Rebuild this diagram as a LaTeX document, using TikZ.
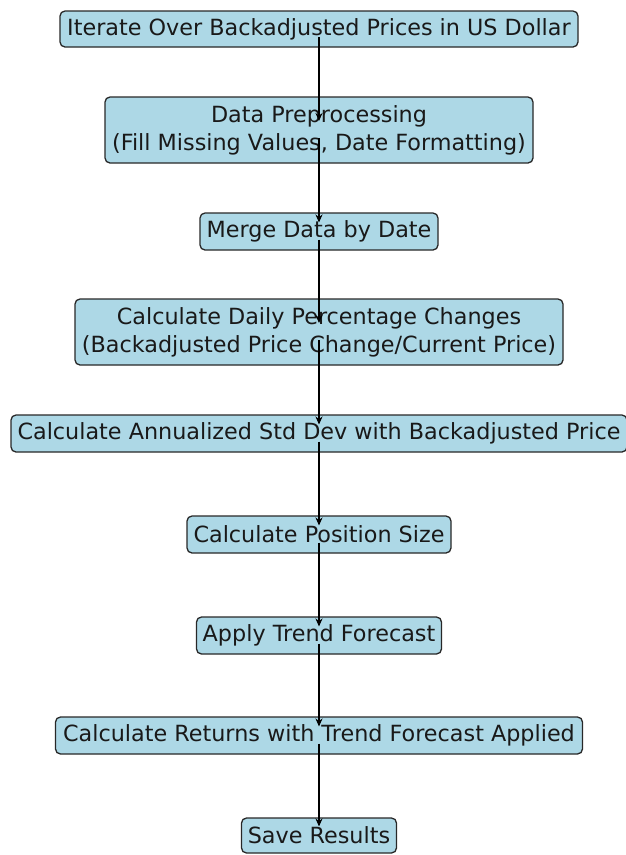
\documentclass[tikz,border=0pt]{standalone}
\usepackage{fontspec}
\setmainfont{DejaVu Sans}
\usetikzlibrary{arrows.meta}
\definecolor{boxfill}{RGB}{173,216,230}
\definecolor{boxedge}{RGB}{40,40,40}
\definecolor{txt}{RGB}{25,25,25}
\begin{document}
\begin{tikzpicture}[x=1pt,y=-1pt,
  flowbox/.style={draw=boxedge, fill=boxfill, line width=1.3pt, rounded corners=5pt,
    inner sep=0pt, text=txt, align=center,
    font=\fontsize{22.3}{28}\selectfont},
  flowarrow/.style={draw=black, line width=1.8pt, -{Stealth[length=8pt,width=7pt]},
    shorten <=8pt, shorten >=9pt}]
\useasboundingbox (0,0) rectangle (626,855);
\node[flowbox, minimum width=518pt, minimum height=36pt] (b1) at (319,29) {Iterate Over Backadjusted Prices in US Dollar};
\node[flowbox, minimum width=428pt, minimum height=66pt] (b2) at (319,130) {Data Preprocessing\\(Fill Missing Values, Date Formatting)};
\node[flowbox, minimum width=238pt, minimum height=37pt] (b3) at (319,231.5) {Merge Data by Date};
\node[flowbox, minimum width=488pt, minimum height=66pt] (b4) at (319,332) {Calculate Daily Percentage Changes\\(Backadjusted Price Change/Current Price)};
\node[flowbox, minimum width=616pt, minimum height=37pt] (b5) at (319,433.5) {Calculate Annualized Std Dev with Backadjusted Price};
\node[flowbox, minimum width=264pt, minimum height=37pt] (b6) at (319,534.5) {Calculate Position Size};
\node[flowbox, minimum width=245pt, minimum height=37pt] (b7) at (319,635.5) {Apply Trend Forecast};
\node[flowbox, minimum width=527pt, minimum height=37pt] (b8) at (319,735.5) {Calculate Returns with Trend Forecast Applied};
\node[flowbox, minimum width=155pt, minimum height=35pt] (b9) at (319,835.5) {Save Results};
\draw[flowarrow] (b1.center) -- (b2.center);
\draw[flowarrow] (b2.center) -- (b3.center);
\draw[flowarrow] (b3.center) -- (b4.center);
\draw[flowarrow] (b4.center) -- (b5.center);
\draw[flowarrow] (b5.center) -- (b6.center);
\draw[flowarrow] (b6.center) -- (b7.center);
\draw[flowarrow] (b7.center) -- (b8.center);
\draw[flowarrow] (b8.center) -- (b9.center);
\end{tikzpicture}
\end{document}
